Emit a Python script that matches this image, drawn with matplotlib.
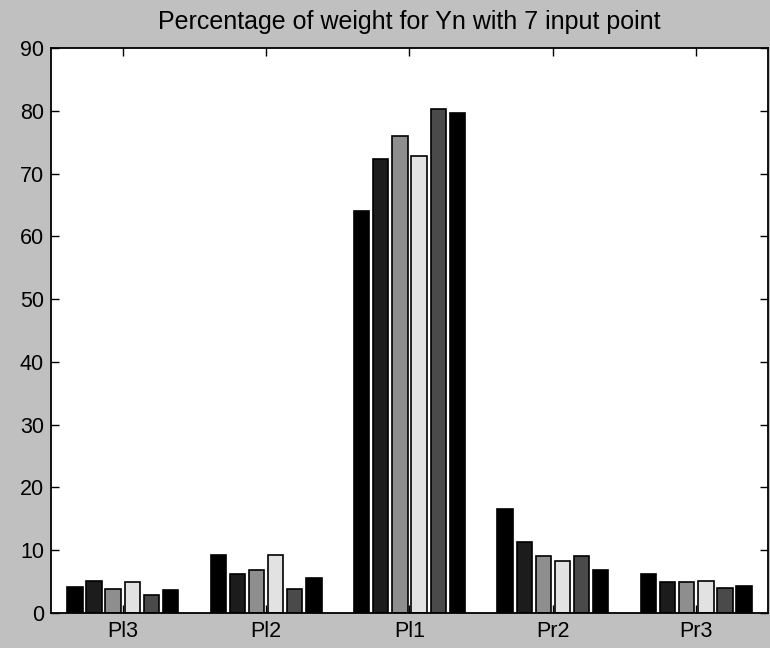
import matplotlib
matplotlib.use("Agg")
import matplotlib.pyplot as plt
import numpy as np

plt.rcParams['font.family'] = ['Liberation Sans', 'DejaVu Sans']

categories = ["Pl3", "Pl2", "Pl1", "Pr2", "Pr3"]
series_1 = [4.2, 9.2, 64.0, 16.6, 6.2]
series_2 = [5.1, 6.2, 72.3, 11.3, 4.9]
series_3 = [3.8, 6.8, 75.9, 9.1, 4.9]
series_4 = [5.0, 9.2, 72.8, 8.3, 5.1]
series_5 = [2.9, 3.9, 80.2, 9.1, 4.0]
series_6 = [3.6, 5.5, 79.7, 6.8, 4.3]
y_ticks = [0, 10, 20, 30, 40, 50, 60, 70, 80, 90]

series = [series_1, series_2, series_3, series_4, series_5, series_6]
fills = ["#000000", "#1c1c1c", "#8e8e8e", "#e2e2e2", "#4a4a4a", "#000000"]

fig = plt.figure(figsize=(7.7, 6.48), dpi=100, facecolor="#c0c0c0")
ax = fig.add_axes([0.0662, 0.054, 0.9312, 0.872])
ax.set_facecolor("white")

x = np.arange(1, len(categories) + 1)
n = len(series)
group_w = 0.8
pitch = group_w / n
bar_w = pitch * 0.8
for i, (vals, col) in enumerate(zip(series, fills)):
    offs = (i - (n - 1) / 2) * pitch
    ax.bar(x + offs, vals, width=bar_w, color=col, edgecolor="black",
           linewidth=1.2, zorder=2)

ax.set_xlim(0.5, 5.5)
ax.set_ylim(0, 90)
ax.set_xticks(x)
ax.set_xticklabels(categories)
ax.set_yticks(y_ticks)
ax.tick_params(direction="in", top=True, right=True, length=6, width=1,
               labelsize=15.5, colors="black")
ax.tick_params(axis="x", pad=6)
ax.tick_params(axis="y", pad=5)
for s in ax.spines.values():
    s.set_linewidth(1.3)
ax.set_title("Percentage of weight for Yn with 7 input point", fontsize=18, pad=13.5)

fig.savefig("out.png", dpi=100, facecolor=fig.get_facecolor())
